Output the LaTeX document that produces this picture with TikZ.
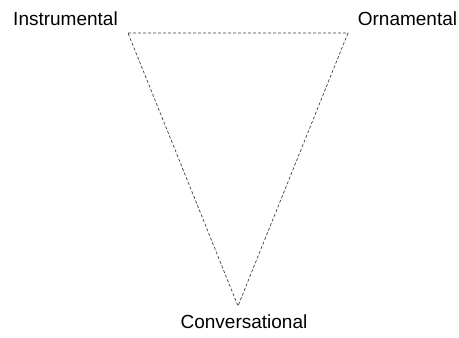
\documentclass[tikz,border=0pt]{standalone}
\usepackage{fontspec}
\setmainfont{Liberation Sans}
\usetikzlibrary{positioning}

\begin{document}
\begin{tikzpicture}[
    x=1pt, y=-1pt,
    corner/.style={inner sep=0pt, anchor=base, font=\fontsize{19}{22}\selectfont},
    edge/.style={draw=black!75, line width=0.7pt, dash pattern=on 3pt off 2pt}
]
\useasboundingbox (0,0) rectangle (459,338);

% Corners
\coordinate (tl) at (128,33);
\coordinate (tr) at (348,33);
\coordinate (bot) at (238,306);

% Labels
\node[corner] (instr) at (65.5,25) {Instrumental};
\node[corner] (orna) at (407.5,25) {Ornamental};
\node[corner] (conv) at (244,328) {Conversational};

% Triangle
\draw[edge] (tl) -- (tr) -- (bot) -- cycle;
\end{tikzpicture}
\end{document}
